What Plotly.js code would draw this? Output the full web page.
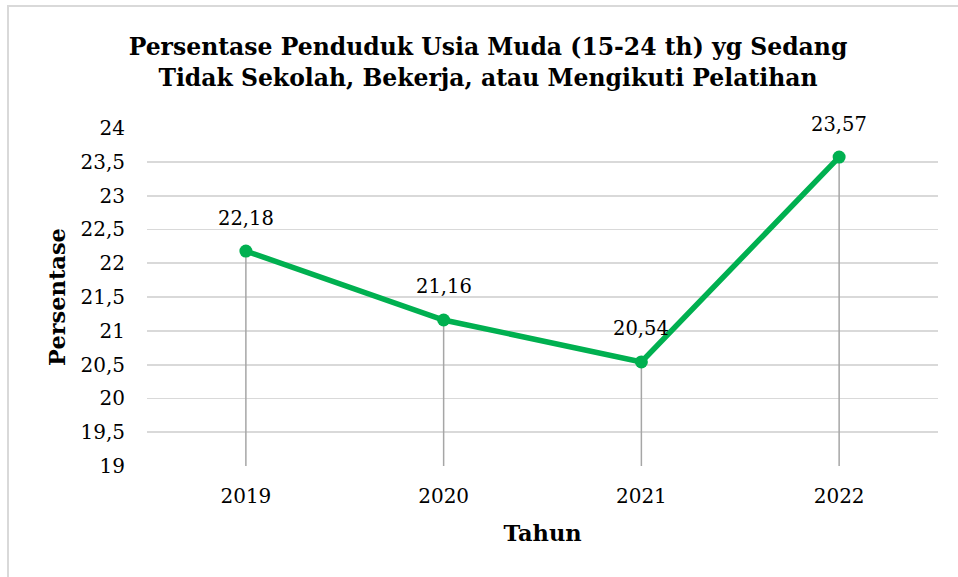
<!DOCTYPE html>
<html>
<head>
<meta charset="utf-8">
<script src="https://cdn.plot.ly/plotly-3.0.1.min.js"></script>
<style>
html,body{margin:0;padding:0;background:#fff;}
#frame{position:absolute;left:7px;top:5px;width:1000px;height:600px;border:2px solid #D9D9D9;box-sizing:border-box;}
#chart{position:absolute;left:0;top:0;width:958px;height:577px;}
</style>
</head>
<body>
<div id="frame"></div>
<div id="chart"></div>
<script>
const years = [2019, 2020, 2021, 2022];
const yearLabels = ['2019', '2020', '2021', '2022'];
const persentase = [22.18, 21.16, 20.54, 23.57];
const yTicks = [19, 19.5, 20, 20.5, 21, 21.5, 22, 22.5, 23, 23.5, 24];
const yMin = 19, yMax = 24;

const FONT = 'DejaVu Serif, Liberation Serif, serif';
const fmt = v => String(v).replace('.', ',');

const dropTrace = {
  x: years, y: persentase, type: 'scatter', mode: 'markers',
  marker: {opacity: 0, size: 1},
  error_y: {type: 'data', symmetric: false, array: persentase.map(() => 0),
    arrayminus: persentase.map(v => v - yMin), color: '#A6A6A6', thickness: 1.5, width: 0},
  hoverinfo: 'skip', showlegend: false
};
const lineTrace = {
  x: years, y: persentase, type: 'scatter', mode: 'lines+markers',
  line: {color: '#00B050', width: 5.5},
  marker: {color: '#00B050', size: 13},
  showlegend: false
};

const annotations = years.map((yr, i) => ({
  x: yr, y: persentase[i], xref: 'x', yref: 'y', text: fmt(persentase[i]),
  showarrow: false, yshift: 33, font: {family: FONT, size: 19.5, color: '#000'}
}));

const layout = {
  width: 958, height: 577,
  paper_bgcolor: 'rgba(0,0,0,0)', plot_bgcolor: 'rgba(0,0,0,0)',
  margin: {l: 147, r: 20, t: 128, b: 111},
  separators: ',.',
  title: {
    text: 'Persentase Penduduk Usia Muda (15-24 th) yg Sedang<br>Tidak Sekolah, Bekerja, atau Mengikuti Pelatihan',
    font: {family: FONT, size: 23.5, color: '#000', weight: 'bold'},
    x: 488/958, xref: 'container', xanchor: 'center',
    y: 1 - 55/577, yref: 'container', yanchor: 'top'
  },
  xaxis: {
    range: [2018.5, 2022.5], tickvals: years, ticktext: yearLabels,
    showgrid: false, zeroline: false,
    showline: false, ticks: '', ticklabelstandoff: 16,
    tickfont: {family: FONT, size: 20, color: '#000'},
    title: {text: 'Tahun', font: {family: FONT, size: 22.5, color: '#000', weight: 'bold'}, standoff: 18}
  },
  yaxis: {
    range: [yMin, yMax], tickvals: yTicks, ticktext: yTicks.map(fmt),
    showgrid: true, gridcolor: '#D9D9D9', gridwidth: 1.8, zeroline: false,
    showline: false, ticks: '', ticklabelstandoff: 21,
    tickfont: {family: FONT, size: 20, color: '#000'},
    title: {text: 'Persentase', font: {family: FONT, size: 22.5, color: '#000', weight: 'bold'}, standoff: 8}
  },
  annotations: annotations
};

Plotly.newPlot('chart', [dropTrace, lineTrace], layout, {displayModeBar: false, staticPlot: true});
</script>
</body>
</html>
